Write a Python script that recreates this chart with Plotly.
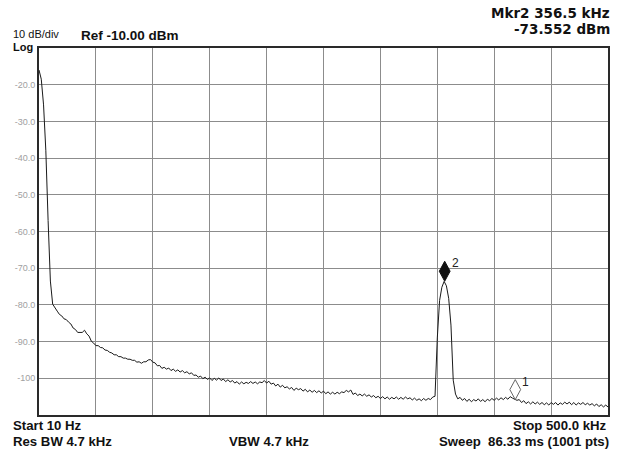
import plotly.graph_objects as go

# ---- data -------------------------------------------------------------
start_khz = 0.0
step_khz = 2.0
level_dbm = [
    -16.0, -18.5, -25.5, -38.0, -57.0, -73.5, -79.8, -80.9, -81.7, -82.6,
    -83.0, -83.8, -84.0, -84.7, -85.2, -86.3, -86.7, -87.5, -87.6, -87.5,
    -86.9, -87.9, -88.5, -89.9, -90.4, -91.1, -91.1, -91.6, -91.7, -92.3,
    -92.4, -92.9, -93.1, -93.6, -93.6, -94.1, -94.1, -94.5, -94.5, -94.8,
    -94.8, -95.1, -95.1, -95.6, -95.5, -95.9, -95.5, -95.5, -95.0, -94.9,
    -95.6, -95.8, -96.6, -96.5, -97.3, -97.0, -97.5, -97.2, -97.9, -97.5,
    -98.1, -97.7, -98.3, -97.9, -98.5, -98.2, -98.8, -98.5, -99.2, -99.1,
    -99.7, -99.4, -100.1, -99.7, -100.3, -99.9, -100.6, -100.0, -100.5, -99.9,
    -100.6, -100.2, -100.9, -100.4, -101.0, -100.6, -101.3, -100.9, -101.6, -101.0,
    -101.5, -101.1, -101.4, -100.9, -101.4, -101.0, -101.5, -101.0, -101.2, -100.6,
    -101.3, -100.8, -101.6, -101.3, -102.1, -101.6, -102.4, -101.9, -102.6, -102.3,
    -102.9, -102.5, -103.3, -102.7, -103.1, -102.8, -103.5, -103.0, -103.7, -103.2,
    -103.8, -103.3, -103.9, -103.4, -104.0, -103.5, -104.2, -103.7, -104.3, -103.8,
    -104.3, -103.8, -104.2, -103.7, -103.9, -103.3, -103.7, -103.2, -104.4, -104.0,
    -104.7, -104.3, -104.8, -104.3, -104.9, -104.5, -105.1, -104.7, -105.3, -104.9,
    -105.5, -105.0, -105.6, -105.1, -105.7, -105.2, -105.6, -105.1, -105.7, -105.2,
    -105.7, -105.1, -105.6, -105.3, -105.9, -105.4, -106.0, -105.6, -106.1, -105.5,
    -106.0, -105.5, -105.8, -105.1, -104.9, -89.0, -78.8, -75.2, -73.6, -74.8,
    -78.2, -85.5, -100.5, -104.3, -105.6, -105.2, -106.0, -105.5, -106.3, -105.7,
    -106.4, -105.8, -106.2, -105.6, -106.3, -105.8, -106.4, -105.7, -106.1, -105.5,
    -106.0, -105.4, -105.9, -105.3, -105.8, -105.2, -105.7, -105.0, -105.4, -105.6,
    -106.0, -105.8, -106.6, -106.1, -106.9, -106.4, -107.0, -106.4, -107.0, -106.5,
    -107.1, -106.6, -107.2, -106.7, -107.3, -106.6, -107.1, -106.6, -107.3, -106.7,
    -107.1, -106.5, -107.0, -106.5, -107.2, -106.6, -107.3, -106.7, -107.1, -106.6,
    -107.2, -106.8, -107.3, -106.9, -107.5, -107.0, -107.7, -107.2, -107.8, -107.3,
    -107.8,
]
freq_khz = [start_khz + i * step_khz for i in range(len(level_dbm))]

y_tick_vals = [-20, -30, -40, -50, -60, -70, -80, -90, -100]
y_tick_text = ["-20.0", "-30.0", "-40.0", "-50.0", "-60.0", "-70.0", "-80.0", "-90.0", "-100"]

marker_names = ["1", "2"]
marker_freq_khz = [418.5, 356.5]
marker_level_dbm = [-105.8, -73.552]

# ---- layout geometry (pixels) ----------------------------------------
W, H = 621, 451
L, R, T, B = 39.3, 10.5, 48.0, 36.0
PW, PH = W - L - R, H - T - B


def px(x, y):
    return (x - L) / PW, (H - B - y) / PH


fig = go.Figure()
fig.add_trace(go.Scatter(
    x=freq_khz, y=level_dbm, mode="lines",
    line=dict(color="#1a1a1a", width=1), hoverinfo="skip", showlegend=False,
))

# marker diamonds (tip on the trace point)
diamond = "M0,0 L5.4,10 L0,20 L-5.4,10 Z"
fills = ["#ffffff", "#111111"]
edges = ["#666666", "#111111"]
for name, f, lv, fc, ec in zip(marker_names, marker_freq_khz, marker_level_dbm, fills, edges):
    fig.add_shape(type="path", xref="x", yref="y", xsizemode="pixel", ysizemode="pixel",
                  xanchor=f, yanchor=lv, path=diamond, fillcolor=fc,
                  line=dict(color=ec, width=1), layer="above")
    fig.add_annotation(x=f, y=lv, xref="x", yref="y", text=name, showarrow=False,
                       xanchor="left", yanchor="middle", xshift=5, yshift=18,
                       font=dict(family="Liberation Sans", size=12, color="#222"))

SANS = "Liberation Sans"


def text(s, x, y, anchor, size, bold=False, family=SANS, color="#111"):
    ax, ay = px(x, y)
    fig.add_annotation(xref="paper", yref="paper", x=ax, y=ay, text=s, showarrow=False,
                       xanchor=anchor, yanchor="middle", borderpad=0, borderwidth=0,
                       font=dict(family=family, size=size, color=color,
                                 weight="bold" if bold else "normal"))


text("10 dB/div", 13.3, 34.0, "left", 11)
text("Log", 13.3, 46.5, "left", 11, bold=True)
text("Ref -10.00 dBm", 81.7, 35.5, "left", 13.5, bold=True)
text("Mkr2 356.5 kHz", 613, 13.3, "right", 13.5, bold=True, family="DejaVu Sans")
text("-73.552 dBm", 613, 28.6, "right", 13.5, bold=True, family="DejaVu Sans")
text("Start 10 Hz", 13.3, 426, "left", 13.2, bold=True)
text("Res BW 4.7 kHz", 13.3, 441.5, "left", 13.2, bold=True)
text("VBW 4.7 kHz", 230, 441.5, "left", 13.2, bold=True)
text("Stop 500.0 kHz", 608, 426, "right", 13.2, bold=True)
text("Sweep\u00a0\u00a086.33 ms (1001 pts)", 612, 441.5, "right", 13.2, bold=True)

fig.update_xaxes(range=[0, 500], dtick=50, tick0=0, showticklabels=False, ticks="",
                 showgrid=True, gridcolor="#8c8c8c", gridwidth=1, zeroline=False,
                 showline=True, linecolor="#2a2a2a", linewidth=2, mirror=True, fixedrange=True)
fig.update_yaxes(range=[-110, -10], tickmode="array", tickvals=y_tick_vals, ticktext=y_tick_text,
                 ticks="", showgrid=True, gridcolor="#8c8c8c", gridwidth=1, zeroline=False,
                 showline=True, linecolor="#2a2a2a", linewidth=2, mirror=True,
                 tickfont=dict(family=SANS, size=9, color="#a0a0a0"), fixedrange=True)
fig.update_layout(
    width=W, height=H, margin=dict(l=L, r=R, t=T, b=B, pad=0),
    paper_bgcolor="white", plot_bgcolor="white", showlegend=False,
)
fig.write_html("out.html", config={"displayModeBar": False})
